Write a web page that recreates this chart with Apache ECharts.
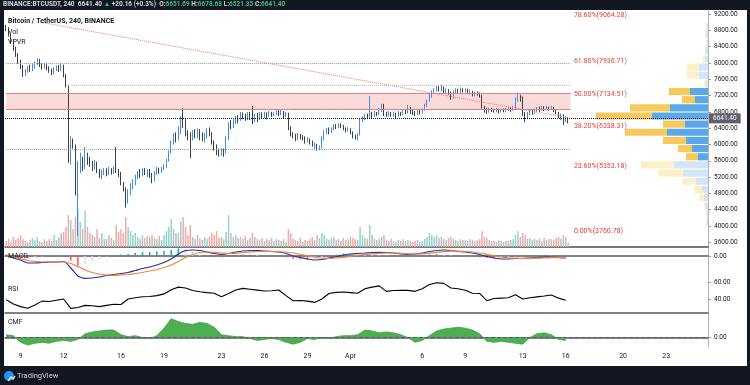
<!DOCTYPE html>
<html><head><meta charset="utf-8">
<script src="https://cdn.jsdelivr.net/npm/echarts@6/dist/echarts.min.js"></script>
<style>html,body{margin:0;padding:0;background:#131722;}#c{width:750px;height:385px;}</style>
</head><body><div id="c"></div>
<script>
// ---------- time slots (4h candles) ----------
const START = Date.UTC(2020, 2, 8, 0, 0);
const SLOTS = 294;
const categories = [];
for (let i = 0; i < SLOTS; i++) {
  categories.push(new Date(START + i * 4 * 3600e3).toISOString().slice(5, 13).replace('T', ' '));
}
const tickDays  = ['03-09','03-12','03-16','03-19','03-23','03-26','03-29','04-01','04-06','04-09','04-13','04-16','04-20','04-23'];
const tickTexts = ['9','12','16','19','23','26','29','Apr','6','9','13','16','20','23'];
const priceTicks = [3600,4000,4400,4800,5200,5600,6000,6400,6800,7200,7600,8000,8400,8800,9200];

// ---------- candles [open, close, low, high], one row per day ----------
const ohlcDays = [
 [[8900,8850,8780,8940],[8850,8700,8650,8880],[8700,8520,8480,8720],[8520,8350,8300,8560],[8350,8200,8150,8400],[8200,8030,7980,8240]],
 [[8030,7900,7850,8080],[7900,7720,7660,7950],[7720,7800,7680,7850],[7800,7880,7760,7920],[7880,7830,7780,7960],[7830,7920,7800,7990]],
 [[7920,7980,7860,8040],[7980,8080,7950,8120],[8080,7960,7900,8100],[7960,7900,7840,7990],[7900,7950,7860,8000],[7950,7880,7820,7990]],
 [[7880,7820,7760,7920],[7820,7760,7700,7860],[7760,7850,7720,7900],[7850,7900,7800,7940],[7900,7830,7780,7950],[7830,7940,7800,8000]],
 [[7940,7700,7650,7960],[7700,7450,7400,7730],[7450,5650,5550,7470],[5650,6050,5500,6200],[6050,5980,5900,6150],[5980,4800,4750,6000]],
 [[4800,5500,3760.78,5600],[5500,5600,5300,5800],[5600,5450,5350,5700],[5450,5700,5400,5940],[5700,5600,5500,5800],[5600,5550,5450,5700]],
 [[5550,5400,5350,5600],[5400,5550,5380,5620],[5550,5350,5300,5580],[5350,5250,5180,5400],[5250,5300,5150,5380],[5300,5380,5250,5420]],
 [[5380,5300,5220,5420],[5300,5380,5250,5450],[5380,5320,5260,5420],[5320,5400,5280,5460],[5400,5350,5300,5940],[5350,5300,5200,5400]],
 [[5300,5050,5000,5330],[5050,4900,4850,5080],[4900,4600,4450,4950],[4600,4850,4550,4900],[4850,4950,4750,5050],[4950,5050,4900,5150]],
 [[5050,5200,5000,5260],[5200,5300,5150,5350],[5300,5250,5180,5400],[5250,5380,5220,5420],[5380,5300,5250,5420],[5300,5350,5200,5400]],
 [[5350,5250,5180,5400],[5250,5150,5050,5300],[5150,5300,5100,5350],[5300,5380,5250,5450],[5380,5320,5280,5430],[5320,5400,5300,5450]],
 [[5400,5450,5380,5520],[5450,5600,5420,5650],[5600,5800,5580,5850],[5800,6050,5780,6100],[6050,6200,6000,6280],[6200,6150,6050,6300]],
 [[6150,6300,6100,6450],[6300,6600,6250,6700],[6600,6550,6400,6890],[6550,6300,6200,6620],[6300,6200,6100,6350],[6200,6150,5670,6300]],
 [[6150,6300,6100,6350],[6300,6200,6150,6380],[6200,6350,6150,6400],[6350,6250,6100,6380],[6250,6150,6080,6300],[6150,6200,6050,6280]],
 [[6200,6350,6150,6400],[6350,6250,6200,6420],[6250,6050,6000,6300],[6050,5950,5850,6100],[5950,5800,5740,6000],[5800,5760,5700,5900]],
 [[5760,5850,5720,5900],[5850,5800,5700,5900],[5800,6150,5780,6200],[6150,6500,6100,6550],[6500,6450,6380,6600],[6450,6550,6400,6620]],
 [[6550,6650,6500,6700],[6650,6600,6520,6720],[6600,6750,6580,6800],[6750,6700,6620,6790],[6700,6650,6580,6760],[6650,6750,6600,6800]],
 [[6750,6700,6600,6800],[6700,6600,6500,6950],[6600,6700,6550,6750],[6700,6650,6550,6780],[6650,6750,6600,6800],[6750,6700,6650,6790]],
 [[6700,6750,6650,6800],[6750,6700,6620,6790],[6700,6780,6680,6820],[6780,6720,6680,6800],[6720,6760,6700,6800],[6760,6800,6720,6850]],
 [[6800,6750,6700,6840],[6750,6800,6720,6850],[6800,6700,6650,6820],[6700,6760,6680,6800],[6760,6400,6350,6780],[6400,6250,6200,6450]],
 [[6250,6200,6150,6300],[6200,6150,6080,6260],[6150,6220,6100,6280],[6220,6180,6120,6260],[6180,6150,6100,6230],[6150,6100,6020,6200]],
 [[6100,6120,6050,6180],[6120,6050,6000,6150],[6050,5980,5950,6100],[5980,6000,5900,6050],[6000,5900,5850,6020],[5900,5920,5860,5980]],
 [[5920,6150,5900,6200],[6150,6300,6100,6350],[6300,6350,6250,6400],[6350,6300,6250,6420],[6300,6380,6280,6420],[6380,6450,6350,6500]],
 [[6450,6420,6380,6500],[6420,6480,6400,6520],[6480,6450,6400,6520],[6450,6400,6350,6480],[6400,6350,6300,6420],[6350,6380,6320,6420]],
 [[6380,6300,6250,6400],[6300,6200,6150,6320],[6200,6150,6120,6240],[6150,6250,6100,6280],[6250,6600,6220,6650],[6600,6650,6550,6700]],
 [[6650,6700,6600,6750],[6700,6680,6620,6760],[6680,6750,6650,7190],[6750,6700,6650,6800],[6700,6780,6680,6820],[6780,6750,6700,6800]],
 [[6750,6850,6720,6900],[6850,6950,6800,7000],[6950,6750,6700,7000],[6750,6720,6680,6800],[6720,6780,6680,6820],[6780,6720,6680,6800]],
 [[6720,6750,6680,6800],[6750,6700,6650,6780],[6700,6780,6680,6820],[6780,6740,6700,6800],[6740,6800,6720,6850],[6800,6780,6740,6860]],
 [[6780,6900,6760,6970],[6900,6800,6750,6930],[6800,6780,6720,6850],[6780,6760,6700,6820],[6760,6800,6720,6840],[6800,6780,6740,6850]],
 [[6780,6850,6760,6880],[6850,6950,6830,7000],[6950,7080,6920,7100],[7080,7200,7050,7250],[7200,7300,7150,7330],[7300,7350,7250,7380]],
 [[7350,7400,7300,7450],[7400,7350,7300,7430],[7350,7380,7300,7460],[7380,7300,7250,7420],[7300,7340,7260,7380],[7340,7280,7220,7360]],
 [[7280,7150,7100,7300],[7150,7300,7120,7330],[7300,7330,7260,7380],[7330,7280,7240,7370],[7280,7350,7260,7400],[7350,7320,7280,7380]],
 [[7320,7340,7280,7380],[7340,7280,7240,7370],[7280,7300,7230,7350],[7300,7220,7180,7320],[7220,7260,7180,7300],[7260,7250,7200,7300]],
 [[7250,7200,7150,7280],[7200,6900,6880,7220],[6900,6850,6780,6950],[6850,6800,6750,6900],[6800,6870,6780,6900],[6870,6850,6800,6900]],
 [[6850,6820,6780,6880],[6820,6860,6790,6900],[6860,6800,6760,6880],[6800,6850,6780,6880],[6850,6830,6790,6880],[6830,6870,6800,6900]],
 [[6870,6880,6820,6920],[6880,6850,6800,6920],[6850,6900,6830,6950],[6900,7100,6880,7150],[7100,7200,7050,7270],[7200,7150,7050,7220]],
 [[7150,6750,6700,7180],[6750,6650,6550,6800],[6650,6750,6620,6800],[6750,6800,6720,6850],[6800,6780,6730,6850],[6780,6850,6760,6880]],
 [[6850,6880,6800,6920],[6880,6850,6800,6930],[6850,6900,6830,6950],[6900,6870,6820,6940],[6870,6900,6840,6950],[6900,6880,6830,6930]],
 [[6880,6900,6850,6950],[6900,6850,6800,6920],[6850,6780,6740,6870],[6780,6700,6650,6800],[6700,6720,6600,6760],[6720,6620,6480,6740]],
 [[6620,6621.24,6550,6690],[6651.69,6641.40,6521.35,6678.68]]
];
const ohlc = ohlcDays.flat();

// ---------- volume per candle ----------
const volumes = [
 6,8,5,10,7,9, 12,8,6,5,7,9, 7,10,6,5,8,6, 8,6,12,7,10,14, 15,20,32,27,18,30,
 38,25,18,36,20,14, 12,10,18,9,14,8, 8,12,9,7,22,15, 18,14,30,20,16,12, 14,10,8,12,9,11,
 10,12,9,8,11,7, 12,16,20,28,18,14, 14,25,30,20,12,22, 10,8,12,9,7,10, 8,10,14,12,16,9,
 10,8,15,32,14,10, 12,9,10,8,11,7, 9,14,10,8,7,9, 6,8,7,9,6,8, 7,6,8,5,18,14,
 8,7,6,9,5,7, 6,8,10,7,12,9, 14,12,8,7,9,10, 7,8,6,9,7,8, 10,9,8,7,20,12,
 9,8,22,12,8,7, 8,10,12,7,6,8, 6,5,7,6,8,6, 7,6,5,6,7,5, 6,8,10,14,12,10,
 12,9,10,8,7,9, 10,8,7,6,8,7, 7,6,8,7,6,7, 8,16,10,9,7,6, 6,5,7,6,5,6,
 6,7,8,12,16,10, 14,12,8,9,7,8, 7,8,6,9,7,8, 8,7,9,10,8,12, 10,4
];

// ---------- volume profile (VPVR), 200-wide price rows ----------
const vpLow  = [4000,4200,4400,4600,4800,5000,5200,5400,5600,5800,6000,6200,6400,6600,6800,7000,7200,7400,7600,7800,8000,8200,8400,8600,8800];
const vpUp   = [1,1,2,4,6,12,25,34,10,16,22,41,23,56,38,13,18,2,9,9,3,2,1,2,1];
const vpDown = [1,1,2,5,8,14,25,33,12,14,23,42,22,56,40,13,21,2,12,12,2,1,1,1,1];
const valueArea = [5600, 7400];

// ---------- indicators, sampled every 12h ----------
const macdLine = [25,-50,-100,-175,-175,-163,-150,-150,-138,-300,-500,-558,-550,-525,-488,-463,-438,-413,-363,-313,
 -275,-225,-163,-75,50,138,150,138,100,63,38,63,100,125,138,138,125,113,100,63,
 0,-38,-75,-100,-88,-50,-18,25,50,63,75,88,93,88,75,50,38,50,75,113,
 138,150,138,113,100,75,38,-13,-50,-75,-75,-63,-63,-50,-38,-25,-33,-38,-50];
const macdSignal = [25,-13,-63,-113,-138,-150,-150,-150,-150,-188,-263,-350,-413,-450,-475,-483,-475,-463,-438,-413,
 -375,-338,-288,-225,-138,-38,38,88,100,93,75,63,68,88,100,113,118,118,113,100,
 75,43,8,-25,-50,-58,-50,-33,-8,18,38,55,68,75,75,68,58,50,55,70,
 90,110,120,120,113,100,75,40,5,-25,-45,-55,-60,-60,-55,-50,-43,-40,-43];
const rsi = [39,34,31,29,33,37.5,37,38.5,40,29,30,32.5,32,31,32.5,33.8,33.5,40,41.5,42.7,
 43,44,46,51,54,53,50,48.6,47.5,46.7,42.7,46.5,50.5,52.5,51.5,50.5,49.5,49.8,50.6,44,
 38,38.3,37.5,36,40,46.5,47.8,48.3,47.5,46.7,52,54,55.5,49,50,50.3,50.2,49,52,57,
 59.2,58.4,53,52,50.3,46.7,46.5,38,40.5,41,41.5,45,40,41.5,42.5,43.5,44.7,41,38.5];
const cmf = [0.03,0.02,-0.05,-0.08,-0.06,-0.05,-0.06,-0.04,-0.03,-0.04,
 -0.02,0.04,0.06,0.07,0.08,0.08,0.03,0.01,0.02,0.0,
 -0.01,0.02,0.1,0.2,0.17,0.15,0.14,0.16,0.15,0.11,
 0.03,0.02,0.01,0.01,-0.01,-0.03,-0.02,-0.01,-0.02,-0.05,
 -0.07,-0.05,-0.01,-0.02,0.0,-0.01,0.01,0.02,0.02,0.03,
 0.08,0.07,0.05,0.06,0.05,0.03,0.0,-0.05,-0.03,0.02,
 0.07,0.09,0.1,0.11,0.1,0.08,0.04,-0.04,-0.05,-0.04,
 -0.05,-0.06,-0.07,0.0,0.04,0.05,0.03,-0.02,-0.03];
const IND_STEP = 3; // 12h = 3 candles

// ---------- drawings ----------
const lastClose = 6641.40;
const fibPct    = ['0.00%','23.60%','38.20%','50.00%','61.80%','78.60%'];
const fibPrice  = [3760.78, 5353.18, 6338.31, 7134.51, 7930.71, 9064.28];
const hLines    = [[0, 236, 7990, '#9a9a9a'], [25, 236, 7460, '#d9b4b4'], [0, 236, 5886, '#9a9a9a']];
const trendLine = [[14, 9006], [236, 6650]];
const zoneBand  = [0, 236, 6871, 7257];
const fibLabelIdx = 237;

// ---------- build ----------
const FONT = 'Roboto, "Noto Sans", sans-serif';
const TXT = '#131722';
const UP = '#3d8ee6', DOWN = '#3f3f3f';
const pts = arr => arr.map((v, k) => [k * IND_STEP, v]);

const volData = volumes.map((v, i) => ({
  value: v,
  itemStyle: { color: ohlc[i][1] >= ohlc[i][0] ? '#93d3cc' : '#f6a8a6' }
}));
const vpData = vpLow.map((lo, i) => [lo, lo + 200, vpUp[i], vpDown[i], (lo >= valueArea[0] && lo < valueArea[1]) ? 1 : 0]);
const histData = macdLine.map((v, k) => {
  const h = v - macdSignal[k];
  const prev = k > 0 ? macdLine[k - 1] - macdSignal[k - 1] : h;
  let c;
  if (h >= 0) c = h >= prev ? '#26a69a' : '#b2dfdb';
  else c = h <= prev ? '#ff5252' : '#ffcdd2';
  return { value: [k * IND_STEP, h], itemStyle: { color: c } };
});

const markLines = [
  { yAxis: lastClose, lineStyle: { type: 'dotted', color: '#131722', width: 1 },
    label: { show: true, position: 'end', formatter: lastClose.toFixed(2), color: '#fff', backgroundColor: '#5d606b',
             padding: [2, 4, 1, 4], fontSize: 6.5, distance: 1 } }
];
hLines.forEach(h => markLines.push([{ coord: [h[0], h[2]], lineStyle: { type: 'dotted', color: h[3], width: 1 } }, { coord: [h[1], h[2]] }]));
markLines.push([{ coord: trendLine[0], lineStyle: { type: 'dotted', color: '#ee7777', width: 1 } }, { coord: trendLine[1] }]);
markLines.push([{ coord: [zoneBand[0], zoneBand[3]], lineStyle: { type: 'solid', color: '#e57f7f', width: 1 } }, { coord: [zoneBand[1], zoneBand[3]] }]);
markLines.push([{ coord: [zoneBand[0], zoneBand[2]], lineStyle: { type: 'solid', color: '#e57f7f', width: 1 } }, { coord: [zoneBand[1], zoneBand[2]] }]);
fibPrice.forEach((p, i) => markLines.push([
  { coord: [fibLabelIdx, p], lineStyle: { color: 'rgba(255,255,255,0)', width: 0 },
    label: { show: true, position: 'insideStartTop', distance: 1, formatter: fibPct[i] + '(' + p.toFixed(2) + ')',
             color: '#e8403f', fontSize: 7, fontFamily: FONT } },
  { coord: [fibLabelIdx + 30, p] }
]));

function renderVP(params, api) {
  const lo = api.value(0), hi = api.value(1), up = api.value(2), dn = api.value(3), va = api.value(4);
  const a = api.coord([0, hi]);
  const b = api.coord([0, lo]);
  const c = api.coord([up, lo]);
  const d = api.coord([up + dn, lo]);
  const top = a[1] + 0.5, h = Math.max(b[1] - a[1] - 1, 0.5);
  const blue = va ? '#5aa8e8' : '#d2e6f7';
  const yel = va ? '#f8ca5e' : '#fcf0c9';
  return { type: 'group', children: [
    { type: 'rect', shape: { x: c[0], y: top, width: a[0] - c[0], height: h }, style: { fill: blue } },
    { type: 'rect', shape: { x: d[0], y: top, width: c[0] - d[0], height: h }, style: { fill: yel } }
  ] };
}

const catAxis = (gi, extra) => Object.assign({
  gridIndex: gi, type: 'category', data: categories, boundaryGap: true,
  axisLine: { show: true, lineStyle: { color: '#555a66', width: 1.5 } },
  axisTick: { show: false }, axisLabel: { show: false }, splitLine: { show: false }
}, extra || {});
const rightAxis = (gi, min, max, vals, fmt) => ({
  gridIndex: gi, type: 'value', position: 'right', min: min, max: max, scale: true,
  splitLine: { show: false },
  axisLine: { show: true, lineStyle: { color: '#b2b5be' } },
  axisTick: { show: true, length: 3, lineStyle: { color: '#9a9ea8' }, customValues: vals },
  axisLabel: { customValues: vals, formatter: fmt, color: TXT, fontSize: 6.5, margin: 6, fontFamily: FONT }
});

const option = {
  animation: false,
  backgroundColor: '#131722',
  textStyle: { fontFamily: FONT },
  title: [
    { left: 3, top: 1, padding: 0, text: '{w|BINANCE:BTCUSDT, 240}  {w|6641.40} {g|▲} {w|+20.16 (+0.3%)}  {w|O:}{g|6651.69} {w|H:}{g|6678.68} {w|L:}{g|6521.35} {w|C:}{g|6641.40}',
      textStyle: { fontSize: 6.5, rich: { w: { color: '#d1d4dc', fontSize: 6.5, fontFamily: FONT }, g: { color: '#3fb68b', fontSize: 6.5, fontFamily: FONT } } } },
    { left: 8, top: 18, padding: 0, text: 'Bitcoin / TetherUS, 240, BINANCE', textStyle: { fontSize: 7, fontWeight: 'bold', color: TXT, fontFamily: FONT } },
    { left: 8, top: 29, padding: 0, text: 'Vol', textStyle: { fontSize: 7, fontWeight: 'normal', color: TXT } },
    { left: 8, top: 39, padding: 0, text: 'VPVR', textStyle: { fontSize: 7, fontWeight: 'normal', color: TXT } },
    { left: 8, top: 253, padding: 0, text: 'MACD', textStyle: { fontSize: 7, fontWeight: 'normal', color: TXT } },
    { left: 8, top: 286, padding: 0, text: 'RSI', textStyle: { fontSize: 7, fontWeight: 'normal', color: TXT } },
    { left: 8, top: 319, padding: 0, text: 'CMF', textStyle: { fontSize: 7, fontWeight: 'normal', color: TXT } },
    { left: 17, top: 372, padding: 0, text: 'TradingView', textStyle: { fontSize: 7.5, fontWeight: 'normal', color: '#d1d4dc' } }
  ],
  graphic: [
    { type: 'circle', left: 4, top: 371, shape: { r: 5 }, style: { fill: '#2196f3' } },
    { type: 'polyline', left: 5.5, top: 373.5, shape: { points: [[0, 5], [3, 1], [5, 3], [7, 0]] }, style: { stroke: '#fff', lineWidth: 1.2, fill: null } }
  ],
  grid: [
    { left: 4, right: 3, top: 10, bottom: 19, show: true, backgroundColor: '#ffffff', borderWidth: 0 },
    { left: 5, right: 42, top: 10, height: 237 },
    { left: 5, right: 42, top: 205, height: 42 },
    { left: 560, right: 42, top: 10, height: 237 },
    { left: 5, right: 42, top: 248, height: 32 },
    { left: 5, right: 42, top: 281, height: 32 },
    { left: 5, right: 42, top: 314, height: 33 }
  ],
  xAxis: [
    { gridIndex: 0, type: 'value', show: false },
    catAxis(1, { axisLine: { show: true, lineStyle: { color: '#4a4e59', width: 1.5 } } }),
    catAxis(2, { show: false }),
    { gridIndex: 3, type: 'value', min: 0, max: 148, inverse: true, show: false },
    catAxis(4),
    catAxis(5),
    catAxis(6, {
      axisLabel: {
        show: true, color: TXT, fontSize: 7, margin: 6, fontFamily: FONT,
        interval: (idx, val) => val.slice(6) === '00' && tickDays.indexOf(val.slice(0, 5)) >= 0,
        formatter: val => tickTexts[tickDays.indexOf(val.slice(0, 5))]
      }
    })
  ],
  yAxis: [
    { gridIndex: 0, type: 'value', show: false },
    rightAxis(1, 3485, 9301, priceTicks, v => v.toFixed(2)),
    { gridIndex: 2, type: 'value', min: 0, max: 42, show: false },
    { gridIndex: 3, type: 'value', min: 3485, max: 9301, show: false },
    rightAxis(4, -600, 200, [0], v => v.toFixed(2)),
    rightAxis(5, 23.5, 61.2, [40, 60], v => v.toFixed(2)),
    rightAxis(6, -0.1, 0.25, [0], v => v.toFixed(2))
  ],
  series: [
    { name: 'Vol', type: 'bar', xAxisIndex: 2, yAxisIndex: 2, data: volData, barWidth: 1.5, silent: true },
    { name: 'VPVR', type: 'custom', xAxisIndex: 3, yAxisIndex: 3, data: vpData, renderItem: renderVP,
      encode: { x: 2, y: 0 }, silent: true, z: 1 },
    { name: 'BTCUSDT', type: 'candlestick', xAxisIndex: 1, yAxisIndex: 1, data: ohlc, barWidth: 1,
      itemStyle: { color: UP, color0: DOWN, borderColor: UP, borderColor0: DOWN, borderWidth: 1 },
      markArea: { silent: true, itemStyle: { color: '#fbdada' },
        data: [[{ coord: [zoneBand[0], zoneBand[3]] }, { coord: [zoneBand[1], zoneBand[2]] }]] },
      markLine: { silent: true, symbol: ['none', 'none'], label: { show: false }, data: markLines },
      z: 3 },
    { name: 'Hist', type: 'bar', xAxisIndex: 4, yAxisIndex: 4, data: histData, barWidth: 1.5, silent: true },
    { name: 'MACD', type: 'line', xAxisIndex: 4, yAxisIndex: 4, data: pts(macdLine), showSymbol: false, smooth: 0.3,
      lineStyle: { color: '#2a2f9a', width: 1.2 }, silent: true },
    { name: 'Signal', type: 'line', xAxisIndex: 4, yAxisIndex: 4, data: pts(macdSignal), showSymbol: false, smooth: 0.3,
      lineStyle: { color: '#f5823a', width: 1.2 }, silent: true },
    { name: 'RSI', type: 'line', xAxisIndex: 5, yAxisIndex: 5, data: pts(rsi), showSymbol: false,
      lineStyle: { color: '#000000', width: 1.1 }, silent: true },
    { name: 'CMF', type: 'line', xAxisIndex: 6, yAxisIndex: 6, data: pts(cmf), showSymbol: false,
      lineStyle: { color: '#43a047', width: 0.8 }, areaStyle: { color: '#4caf50', opacity: 1 }, silent: true,
      markLine: { silent: true, symbol: ['none', 'none'], label: { show: false },
        lineStyle: { type: 'dashed', color: '#555a66', width: 1 }, data: [{ yAxis: 0 }] } }
  ]
};

const chart = echarts.init(document.getElementById('c'), null, { renderer: 'canvas' });
chart.setOption(option);
</script></body></html>
